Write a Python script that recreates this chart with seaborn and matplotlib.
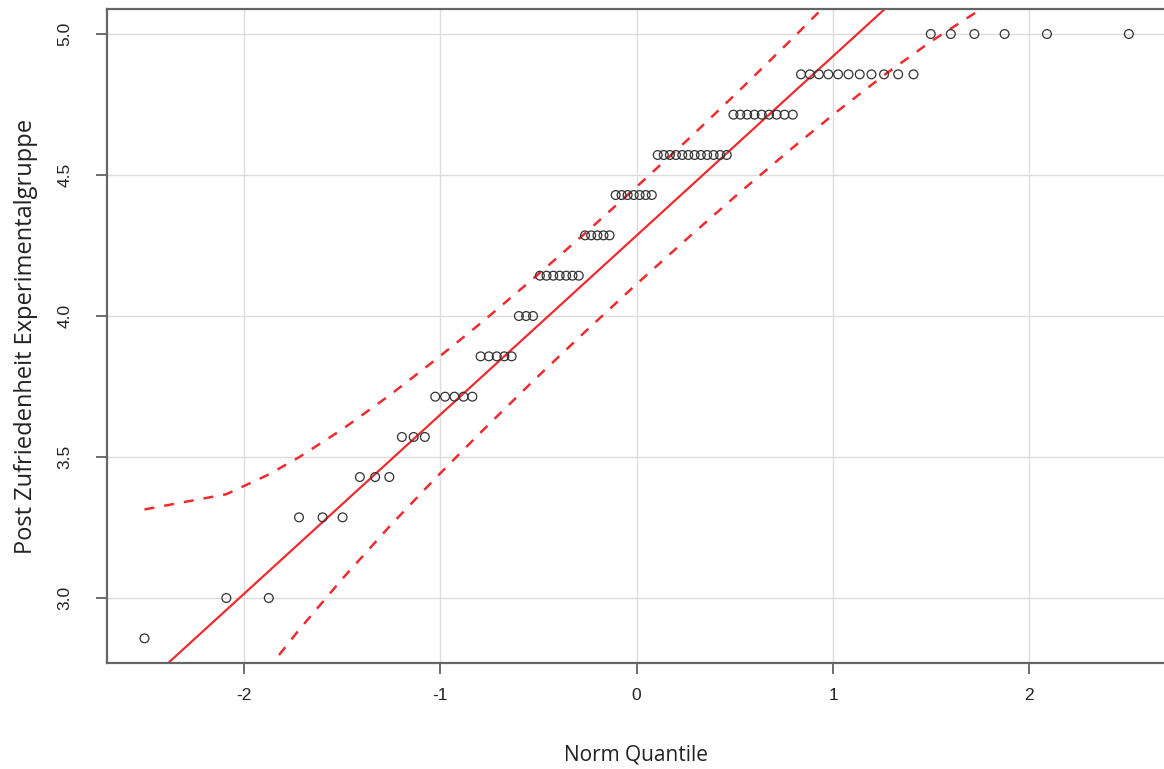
import matplotlib
matplotlib.use("Agg")
import matplotlib.pyplot as plt
import numpy as np
import pandas as pd
import seaborn as sns

# sample values (sevenths) and the norm quantiles, per level
levels = [2.857, 3.0, 3.286, 3.429, 3.571, 3.714, 3.857, 4.0,
          4.143, 4.286, 4.429, 4.571, 4.714, 4.857, 5.0]
level_quantiles = [
    [-2.507],
    [-2.09, -1.874],
    [-1.72, -1.60, -1.498],
    [-1.41, -1.332, -1.26],
    [-1.196, -1.136, -1.079],
    [-1.026, -0.976, -0.928, -0.882, -0.837],
    [-0.795, -0.753, -0.713, -0.674, -0.637],
    [-0.600, -0.563, -0.528],
    [-0.493, -0.459, -0.425, -0.392, -0.359, -0.327, -0.295],
    [-0.263, -0.232, -0.200, -0.169, -0.138],
    [-0.107, -0.077, -0.046, -0.015, 0.015, 0.046, 0.077],
    [0.107, 0.138, 0.169, 0.200, 0.232, 0.263, 0.295, 0.327, 0.359, 0.392, 0.425, 0.459],
    [0.493, 0.528, 0.563, 0.600, 0.637, 0.674, 0.713, 0.753, 0.795],
    [0.837, 0.882, 0.928, 0.976, 1.026, 1.079, 1.136, 1.196, 1.26, 1.332, 1.41],
    [1.498, 1.60, 1.72, 1.874, 2.09, 2.507],
]

# reference line (quartiles) and 95% envelope
ref_intercept = 4.2857
ref_slope = 0.6354
env_z = [-2.507, -2.09, -1.874, -1.72, -1.498, -1.26, -1.026, -0.795, -0.528, -0.263,
         -0.015, 0.015, 0.263, 0.528, 0.795, 1.026, 1.26, 1.498, 1.72, 1.874, 2.09, 2.507]
env_upper = [3.314, 3.368, 3.438, 3.499, 3.599, 3.718, 3.844, 3.974, 4.132, 4.293,
             4.449, 4.468, 4.627, 4.803, 4.985, 5.147, 5.319, 5.502, 5.684, 5.819, 6.024, 6.500]
env_lower = [2.071, 2.547, 2.752, 2.887, 3.069, 3.253, 3.424, 3.587, 3.769, 3.944,
             4.104, 4.123, 4.278, 4.440, 4.597, 4.728, 4.854, 4.973, 5.073, 5.134, 5.203, 5.257]

pts = pd.DataFrame({
    "q": [q for qs in level_quantiles for q in qs],
    "y": [lv for lv, qs in zip(levels, level_quantiles) for _ in qs],
})
env = pd.DataFrame({"z": env_z, "upper": env_upper, "lower": env_lower})

sns.set_theme(style="white")
plt.rcParams["font.family"] = ["Liberation Sans", "DejaVu Sans"]
plt.rcParams["axes.unicode_minus"] = False

W, H = 1164, 769
fig = plt.figure(figsize=(W / 100, H / 100), dpi=100)
ax = fig.add_axes([107 / W, 106 / H, 1 - 107 / W, 654 / H])

red = "#ee2b2f"
ax.grid(True, color="#dcdcdc", lw=1.0)
ax.set_axisbelow(True)

ax.axline((0, ref_intercept), slope=ref_slope, color=red, lw=1.6, zorder=2)
sns.lineplot(data=env, x="z", y="upper", ax=ax, color=red, lw=1.8,
             linestyle=(0, (4, 4)), sort=False, zorder=2)
sns.lineplot(data=env, x="z", y="lower", ax=ax, color=red, lw=1.8,
             linestyle=(0, (4, 4)), sort=False, zorder=2)
sns.scatterplot(data=pts, x="q", y="y", ax=ax, marker="o", s=40,
                facecolor="none", edgecolor="#333333", linewidth=0.9, zorder=3)

ax.set_xlim(-2.698, 2.686)
ax.set_ylim(2.7695, 5.0887)
ax.set_xticks([-2, -1, 0, 1, 2])
ax.set_yticks([3.0, 3.5, 4.0, 4.5, 5.0])
ax.set_yticklabels(["3.0", "3.5", "4.0", "4.5", "5.0"], rotation=90, va="center")

for side in ["top", "left", "bottom"]:
    ax.spines[side].set_color("#666666")
    ax.spines[side].set_linewidth(1.6)
ax.spines["right"].set_visible(False)

ax.tick_params(axis="both", direction="out", length=8, width=1.2, color="#555555",
               labelsize=12.5, labelcolor="#222222", left=True, bottom=True)
ax.tick_params(axis="x", pad=10)
ax.tick_params(axis="y", pad=17)

ax.set_xlabel("Norm Quantile", fontsize=15, color="#222222",
              family=["Open Sans", "DejaVu Sans"], labelpad=30)
ax.set_ylabel("Post Zufriedenheit Experimentalgruppe", fontsize=17, color="#222222",
              family=["Open Sans", "DejaVu Sans"], labelpad=14)

fig.savefig("out.png", dpi=100)
